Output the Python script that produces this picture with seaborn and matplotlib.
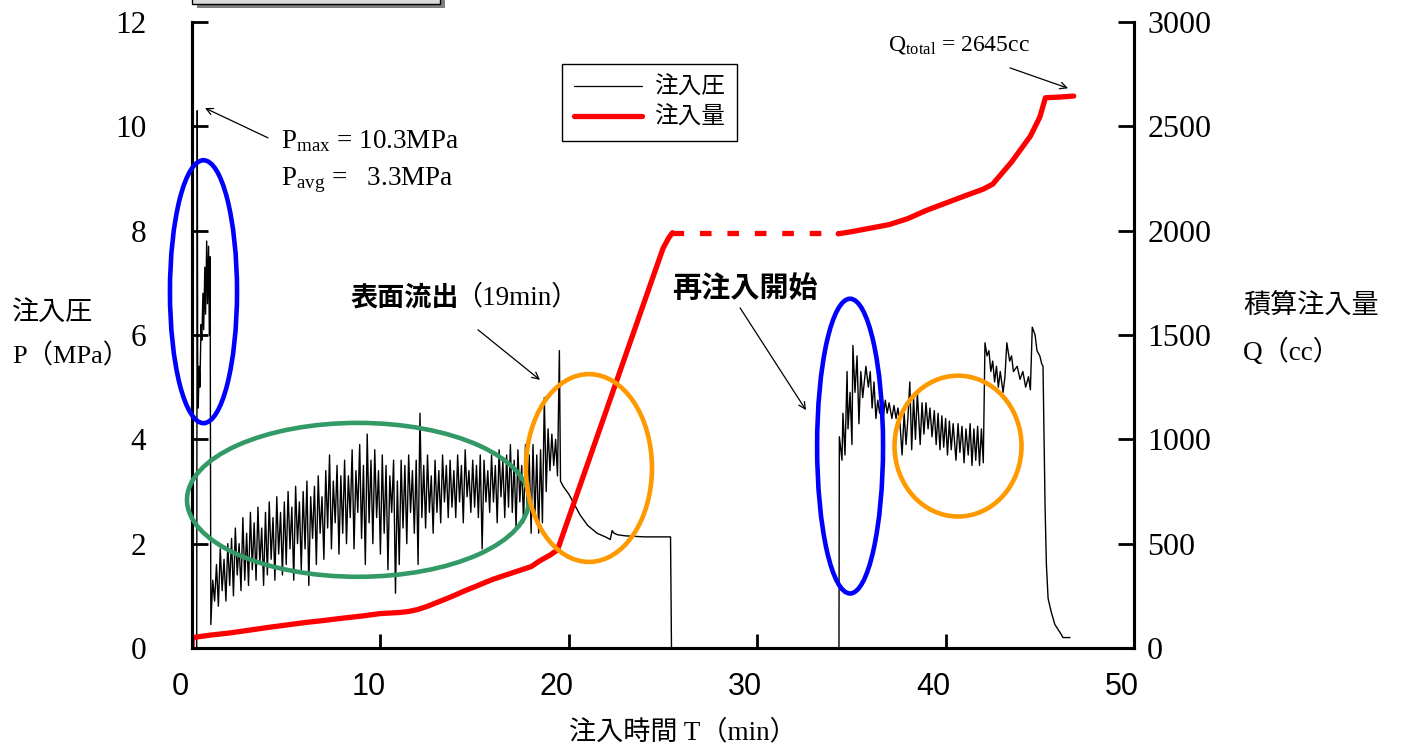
import numpy as np
import matplotlib
matplotlib.use("Agg")
import matplotlib.pyplot as plt
import matplotlib.transforms as mtransforms
from matplotlib.patches import Ellipse, Rectangle
from matplotlib.lines import Line2D
import seaborn as sns


# ---- 注入圧 P (MPa) ----
# start spike
P_START_T = [0.0, 0.25, 0.28, 0.30, 0.33, 0.38, 0.42, 0.48, 0.52, 0.58, 0.62,
             0.68, 0.72, 0.78, 0.82, 0.88, 0.92, 0.96]
P_START = [0.0, 0.0, 10.3, 5.5, 4.6, 5.4, 5.0, 6.2, 5.9, 6.8, 6.1,
           7.3, 6.4, 7.8, 6.6, 7.7, 6.0, 7.5]

# logger block, one reading every 0.1 min from 1.0 min
P_NOISE_T0 = 1.0
P_NOISE_DT = 0.1
P_NOISE = [
    0.45, 1.3, 0.9, 1.6, 0.8, 1.9, 1.1, 1.7, 0.9, 2.0,
    1.2, 2.1, 1.0, 2.3, 1.4, 2.0, 1.1, 2.5, 1.3, 2.2,
    1.2, 2.6, 1.5, 2.4, 1.3, 2.7, 1.6, 2.3, 1.2, 2.6,
    1.4, 2.8, 1.7, 2.5, 1.3, 2.9, 1.8, 2.6, 1.4, 2.8,
    1.6, 3.0, 1.9, 2.7, 1.3, 3.1, 2.0, 2.8, 1.5, 3.0,
    1.9, 3.2, 1.2, 2.9, 2.1, 3.1, 1.6, 3.3, 2.2, 2.9,
    1.7, 3.4, 2.3, 3.7, 1.9, 3.2, 2.4, 3.5, 1.8, 3.3,
    2.2, 3.6, 2.0, 3.3, 2.5, 3.8, 1.9, 3.4, 2.6, 3.9,
    2.1, 3.5, 1.6, 4.1, 2.4, 3.6, 2.0, 3.8, 2.5, 3.4,
    1.8, 3.7, 2.2, 3.5, 1.5, 3.3, 2.6, 3.6, 1.05, 3.2,
    1.6, 3.6, 2.3, 3.5, 2.0, 3.7, 2.6, 3.4, 2.2, 3.6,
    1.6, 4.5, 2.5, 3.5, 2.3, 3.7, 2.6, 3.3, 2.2, 3.6,
    2.6, 3.4, 2.4, 3.7, 2.8, 3.5, 2.5, 3.6, 2.7, 3.4,
    2.5, 3.7, 2.8, 3.5, 2.4, 3.8, 2.9, 3.4, 2.6, 3.6,
    2.7, 3.5, 2.5, 3.7, 1.9, 3.6, 2.8, 3.4, 2.6, 3.7,
    2.8, 3.5, 2.4, 3.8, 2.9, 3.6, 2.5, 3.7, 2.7, 3.9,
    2.6, 3.6, 2.3, 3.8, 2.8, 3.5, 2.4, 3.9, 2.6, 3.7,
    2.2, 3.9, 2.5, 3.7, 2.2, 3.8, 2.4, 4.8, 3.0, 4.2,
    3.4, 4.1, 3.5, 4.0, 3.3,
]

# decay after surface outflow, then pump stopped
P_DECAY_T = [19.5, 19.56, 19.7, 20.0, 20.3, 20.6, 21.0, 21.5, 22.0, 22.2,
             22.3, 22.4, 22.6, 23.0, 24.0, 25.4, 25.45, 34.34]
P_DECAY = [5.7, 3.2, 3.1, 2.95, 2.75, 2.55, 2.35, 2.2, 2.12, 2.08,
           2.25, 2.2, 2.17, 2.15, 2.13, 2.13, 0.0, 0.0]

# re-injection
P2_T = [34.36, 34.5, 34.55, 34.66, 34.77, 34.82, 34.93, 35.03, 35.08, 35.19,
        35.3, 35.4, 35.5, 35.6, 35.77, 35.9, 36.0, 36.1, 36.2, 36.3,
        36.4, 36.5, 36.6, 36.7, 36.8, 36.9, 37.0, 37.15, 37.26, 37.37,
        37.47, 37.58, 37.69, 37.8, 37.9, 38.0, 38.1, 38.2, 38.3, 38.4,
        38.5, 38.65, 38.75, 38.85, 38.96, 39.07, 39.17, 39.28, 39.4, 39.5,
        39.6, 39.7, 39.8, 39.9, 40.0, 40.1, 40.2, 40.3, 40.4, 40.55,
        40.66, 40.76, 40.87, 40.98, 41.08, 41.2, 41.3, 41.4, 41.5, 41.6,
        41.7, 41.8, 41.9, 42.0, 42.09, 42.2, 42.3, 42.4, 42.5, 42.6,
        42.7, 42.8, 42.9, 43.05, 43.15, 43.25, 43.4, 43.5, 43.6, 43.8,
        43.95, 44.1, 44.25, 44.4, 44.5, 44.6, 44.75, 44.85, 45.0, 45.1,
        45.17, 45.28, 45.35, 45.44, 45.6, 45.8, 46.07, 46.23, 46.6]
P2 = [4.05, 3.6, 4.5, 3.7, 5.3, 4.2, 4.9, 3.9, 5.8, 4.9,
      5.6, 4.3, 5.3, 4.8, 5.4, 5.0, 5.3, 4.6, 5.1, 4.4,
      4.75, 4.5, 4.8, 4.45, 4.75, 4.5, 4.7, 4.4, 4.65, 4.4,
      4.6, 4.3, 3.7, 4.5, 3.9, 4.4, 5.1, 3.8, 4.8, 4.0,
      4.9, 3.9, 4.7, 4.1, 4.7, 4.2, 4.6, 4.05, 4.55, 3.9,
      4.5, 3.8, 4.45, 3.85, 4.4, 3.7, 4.35, 3.8, 4.3, 3.6,
      4.3, 3.75, 4.25, 3.55, 4.2, 3.7, 4.3, 3.5, 4.2, 3.6,
      4.25, 3.5, 4.2, 3.55, 5.85, 5.6, 5.7, 5.3, 5.5, 5.1,
      5.4, 5.0, 5.3, 4.9, 5.2, 5.85, 5.5, 5.6, 5.3, 5.4,
      5.15, 5.3, 5.0, 5.2, 4.95, 6.15, 6.0, 5.7, 5.6, 5.45,
      5.4, 2.7, 1.6, 0.95, 0.7, 0.45, 0.3, 0.2, 0.2]

# ---- 注入量 Q (cc) ----
Q1_T = [0.0, 0.02, 1, 2, 3, 4, 5, 6, 7, 8, 9, 10, 11, 11.5, 12, 12.5, 13, 13.5,
        14, 14.5, 15, 15.5, 16, 16.5, 17, 17.5, 18, 18.5, 19, 19.4, 20, 21, 22,
        23, 24, 25, 25.3, 25.5]
Q1 = [0, 50, 62, 72, 85, 98, 110, 122, 132, 143, 153, 165, 170, 175, 185, 200,
      218, 236, 255, 275, 293, 312, 330, 345, 360, 375, 390, 420, 445, 470, 625,
      883, 1141, 1399, 1657, 1915, 1965, 1990]
QGAP_T = [25.5, 34.3]
QGAP = [1990, 1990]
Q2_T = [34.3, 35, 36, 37, 38, 39, 40, 41, 42, 42.5, 43, 43.5, 44, 44.5, 45,
        45.3, 46, 46.8]
Q2 = [1985, 1995, 2012, 2029, 2058, 2098, 2132, 2166, 2199, 2223, 2276, 2329,
      2391, 2453, 2544, 2637, 2640, 2645]

X_TICKS = [0, 10, 20, 30, 40, 50]
P_TICKS = [0, 2, 4, 6, 8, 10, 12]
Q_TICKS = [0, 500, 1000, 1500, 2000, 2500, 3000]


noise_t = P_NOISE_T0 + P_NOISE_DT * np.arange(len(P_NOISE))
p_t = np.concatenate([P_START_T, noise_t, P_DECAY_T, P2_T])
p_v = np.concatenate([P_START, P_NOISE, P_DECAY, P2])

sns.set_theme(style="white")
plt.rcParams["font.family"] = ["Liberation Serif", "Noto Sans CJK JP"]
plt.rcParams["mathtext.fontset"] = "custom"
plt.rcParams["mathtext.rm"] = "Liberation Serif"
plt.rcParams["mathtext.it"] = "Liberation Serif:italic"
for key in ("text.color", "axes.labelcolor", "xtick.color", "ytick.color"):
    plt.rcParams[key] = "black"

W, H = 1402, 751
fig = plt.figure(figsize=(W / 100, H / 100), dpi=100)
ax = fig.add_axes([192 / W, 1 - 648 / H, (1134 - 192) / W, (648 - 22) / H])
ax2 = ax.twinx()

sns.lineplot(x=p_t, y=p_v, ax=ax, estimator=None, sort=False,
             color="black", linewidth=1.0)
for qt, qv, ls in [(Q1_T, Q1, "-"), (QGAP_T, QGAP, (0, (2.2, 3.0))), (Q2_T, Q2, "-")]:
    sns.lineplot(x=qt, y=qv, ax=ax2, estimator=None, sort=False,
                 color="#ff0000", linewidth=3.8, linestyle=ls)

ax.set_xlim(0, 50)
ax.set_ylim(0, 12)
ax2.set_ylim(0, 3000)
ax.set_xticks(X_TICKS)
ax.set_yticks(P_TICKS)
ax2.set_yticks(Q_TICKS)
ax.set_xlabel("")
ax.set_ylabel("")
ax2.set_ylabel("")

for a in (ax, ax2):
    a.spines["top"].set_visible(False)
    for s in ("left", "right", "bottom"):
        a.spines[s].set_linewidth(2.2)
        a.spines[s].set_color("black")

ax.tick_params(axis="y", direction="in", length=11.5, width=2, pad=33,
               labelsize=22.5, left=True, right=False, colors="black")
ax.tick_params(axis="x", direction="in", length=10, width=2, pad=17,
               labelsize=22, bottom=True, top=False, colors="black")
ax2.tick_params(axis="y", direction="in", length=11.5, width=2, pad=9.5,
                labelsize=23, right=True, left=False, colors="black")

shift = mtransforms.ScaledTranslation(-12 / 100, 0, fig.dpi_scale_trans)
for tick in ax.xaxis.get_major_ticks():
    tick.label1.set_fontfamily("Liberation Sans")
    tick.label1.set_transform(tick.label1.get_transform() + shift)

# circled regions
ellipses = [
    ((0.61, 6.83), 3.56, 5.04, "#0000ff"),
    ((8.81, 2.84), 18.15, 2.95, "#339966"),
    ((21.07, 3.45), 6.69, 3.60, "#ff9900"),
    ((34.93, 3.87), 3.50, 5.65, "#0000ff"),
    ((40.66, 3.87), 6.74, 2.70, "#ff9900"),
]
for center, w, h, c in ellipses:
    ax2.add_patch(Ellipse(center, w, h, transform=ax.transData, fill=False,
                          edgecolor=c, linewidth=3.3, clip_on=False, zorder=5))

arrow = dict(arrowstyle="->", color="black", lw=0.9, shrinkA=0, shrinkB=0)
ax2.annotate("", xy=(0.69, 10.35), xytext=(4.03, 9.78), xycoords=ax.transData,
             textcoords=ax.transData, arrowprops=arrow)
ax2.annotate("", xy=(18.47, 5.14), xytext=(15.18, 6.10), xycoords=ax.transData,
             textcoords=ax.transData, arrowprops=arrow)
ax2.annotate("", xy=(32.59, 4.56), xytext=(29.09, 6.52), xycoords=ax.transData,
             textcoords=ax.transData, arrowprops=arrow)
ax2.annotate("", xy=(46.5, 10.73), xytext=(43.42, 11.12), xycoords=ax.transData,
             textcoords=ax.transData, arrowprops=arrow)

ax.text(4.72, 9.72, r"P$_{\mathrm{max}}$ = 10.3MPa", fontsize=19.5,
        ha="left", va="center")
ax.text(4.72, 8.97, r"P$_{\mathrm{avg}}$ =   3.3MPa", fontsize=19.5,
        ha="left", va="center")
ax.text(36.94, 11.56, r"Q$_{\mathrm{total}}$ = 2645cc", fontsize=17,
        ha="left", va="center")
ax.text(8.39, 6.71, "表面流出", family="Noto Sans CJK JP", fontweight="bold",
        fontsize=19.5, ha="left", va="center")
ax.text(13.95, 6.71, "（19min）", fontsize=19.5, ha="left", va="center")
ax.text(25.48, 6.90, "再注入開始", family="Noto Sans CJK JP", fontweight="bold",
        fontsize=21, ha="left", va="center")

# axis titles
fig.text(12 / W, 1 - 313 / H, "注入圧", fontsize=19.5, ha="left", va="center")
fig.text(12 / W, 1 - 356 / H, "P（MPa）", fontsize=19, ha="left", va="center")
fig.text(1243 / W, 1 - 307 / H, "積算注入量", fontsize=19.5, ha="left", va="center")
fig.text(1243 / W, 1 - 352 / H, "Q（cc）", fontsize=19.5, ha="left", va="center")
fig.text(683 / W, 1 - 733 / H, "注入時間 T（min）", fontsize=19.5,
         ha="center", va="center")

# legend
handles = [Line2D([], [], color="black", lw=0.9),
           Line2D([], [], color="#ff0000", lw=3.8)]
leg = ax2.legend(handles, ["注入圧", "注入量"], loc="upper left",
                 bbox_to_anchor=(562 / W, 1 - 64 / H),
                 bbox_transform=fig.transFigure, borderaxespad=0,
                 frameon=True, fancybox=False,
                 framealpha=1, edgecolor="black", handlelength=2.9,
                 borderpad=0.5, labelspacing=0.3, handletextpad=0.5,
                 prop={"family": "Noto Sans CJK JP", "size": 17})
leg.get_frame().set_linewidth(1.0)
leg.set_zorder(10)

# clipped box at the top edge
fig.add_artist(Rectangle((197 / W, 1 - 8 / H), 248 / W, 20 / H,
                         transform=fig.transFigure, facecolor="#7f7f7f",
                         edgecolor="none"))
fig.add_artist(Rectangle((192 / W, 1 - 4 / H), 248 / W, 20 / H,
                         transform=fig.transFigure, facecolor="#d9d9d9",
                         edgecolor="black", linewidth=1.0))

fig.savefig("out.png", dpi=100)
plt.close(fig)
